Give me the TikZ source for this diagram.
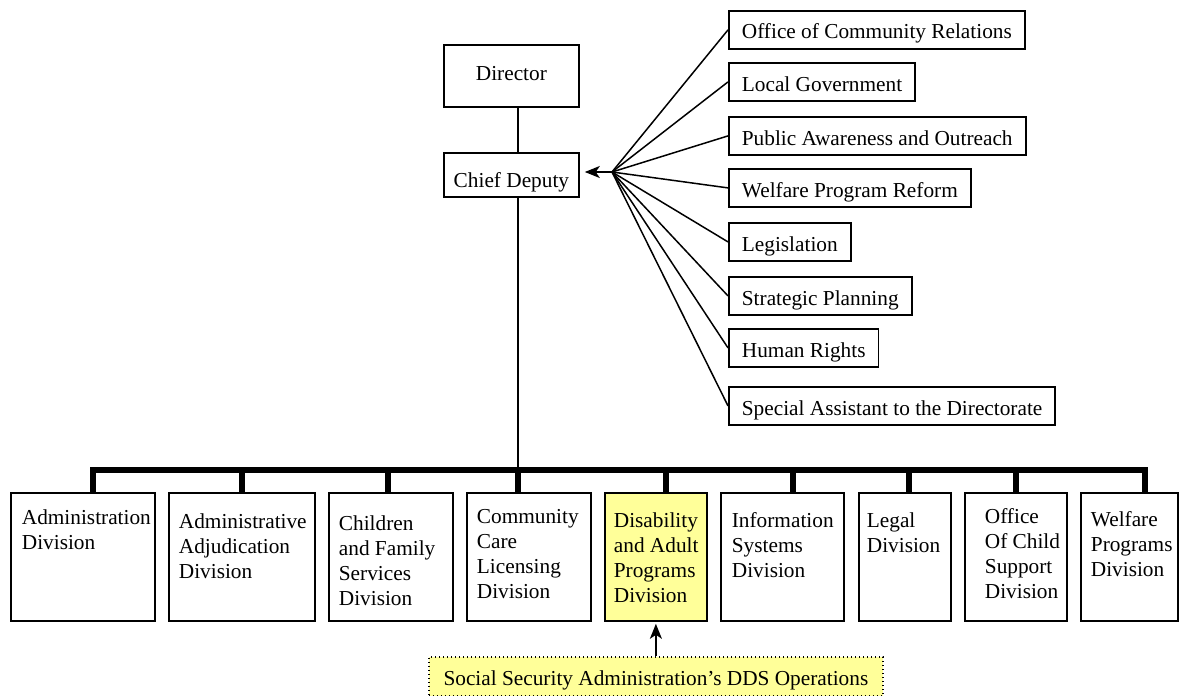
\documentclass[tikz,border=0pt]{standalone}
\usepackage{fontspec}
\setmainfont{Liberation Serif}
\usetikzlibrary{arrows.meta}
\definecolor{paleyellow}{HTML}{FFFF99}
\newcommand{\divtxt}[3]{\hspace*{#1pt}\parbox[t]{\dimexpr#2pt-#1pt\relax}{\raggedright #3}}

\begin{document}
\begin{tikzpicture}[x=1pt,y=-1pt,
    font=\fontsize{21.3}{25}\selectfont,
    >={Stealth[length=15pt,width=12pt,inset=4pt]},
    box/.style={draw,line width=1.8pt,inner sep=0pt,anchor=north west},
    unitbox/.style={box,inner xsep=13pt,text height=29pt,text depth=9pt},
    divbox/.style={box},
    link/.style={line width=1.5pt},
    bus/.style={line width=6.5pt}]
      \useasboundingbox (0,0) rectangle (1179,696);

      % top of the chart
      \node[box,minimum width=135pt,text height=36pt,text depth=26pt] (dir) at (443,44) {Director};
      \node[box,minimum width=135pt,text height=35pt,text depth=9pt] (cd) at (443,152) {Chief Deputy};

      % units reporting to the chief deputy
      \node[unitbox,text height=28pt,text depth=10pt] (ocr) at (728,10) {Office of Community Relations};
      \node[unitbox] (lg) at (728,62) {Local Government};
      \node[unitbox] (paw) at (728,116) {Public Awareness and Outreach};
      \node[unitbox] (wpr) at (728,168) {Welfare Program Reform};
      \node[unitbox] (legis) at (728,222) {Legislation};
      \node[unitbox] (sp) at (728,276) {Strategic Planning};
      \node[unitbox] (hr) at (728,328) {Human Rights};
      \node[unitbox] (sad) at (728,386) {Special Assistant to the Directorate};

      \coordinate (hub) at (612,172);
      \draw[link,->,shorten >=5pt] (hub) -- (hub -| cd.east);
      \foreach \u in {ocr,lg,paw,wpr,legis,sp,hr,sad}
        \draw[link] (hub) -- (\u.west);

      % divisions
      \node[divbox,text height=32pt,text depth=96pt] (adm) at (10,492) {\divtxt{11}{144}{Administration\\Division}};
      \node[divbox,text height=36pt,text depth=92pt] (aad) at (168,492) {\divtxt{10}{146}{Administrative\\Adjudication\\Division}};
      \node[divbox,text height=38pt,text depth=90pt] (cfs) at (328,492) {\divtxt{10}{124}{Children\\and Family\\Services\\Division}};
      \node[divbox,text height=31pt,text depth=97pt] (ccl) at (466,492) {\divtxt{10}{124}{Community\\Care\\Licensing\\Division}};
      \node[divbox,fill=paleyellow,text height=35pt,text depth=93pt] (dap) at (604,492) {\divtxt{9}{102}{Disability\\and Adult\\Programs\\Division}};
      \node[divbox,text height=35pt,text depth=93pt] (isd) at (720,492) {\divtxt{11}{123}{Information\\Systems\\Division}};
      \node[divbox,text height=35pt,text depth=93pt] (lgl) at (858,492) {\divtxt{8}{92}{Legal\\Division}};
      \node[divbox,text height=31pt,text depth=97pt] (ocs) at (964,492) {\divtxt{20}{102}{Office\\Of Child\\Support\\Division}};
      \node[divbox,text height=34pt,text depth=94pt] (wpd) at (1080,492) {\divtxt{10}{97}{Welfare\\Programs\\Division}};

      % bus bar
      \coordinate (b1) at (93,470);
      \coordinate (b2) at (242,470);
      \coordinate (b3) at (388,470);
      \coordinate (b4) at (518,470);
      \coordinate (b5) at (666,470);
      \coordinate (b6) at (793,470);
      \coordinate (b7) at (909,470);
      \coordinate (b8) at (1016,470);
      \coordinate (b9) at (1145,470);

      \draw[link] (dir.south -| b4) -- (cd.north -| b4);
      \draw[link] (cd.south -| b4) -- (b4);
      \draw[bus] (b1 |- adm.north) -- (b1) -- (b9) -- (b9 |- wpd.north);
      \draw[bus] (b2) -- (b2 |- aad.north);
      \draw[bus] (b3) -- (b3 |- cfs.north);
      \draw[bus] (b4) -- (b4 |- ccl.north);
      \draw[bus] (b5) -- (b5 |- dap.north);
      \draw[bus] (b6) -- (b6 |- isd.north);
      \draw[bus] (b7) -- (b7 |- lgl.north);
      \draw[bus] (b8) -- (b8 |- ocs.north);

      % outside operations
      \node[anchor=north west,inner sep=0pt,minimum width=454pt,text height=29pt,text depth=10pt,
            fill=paleyellow,draw,line width=1.8pt,dash pattern=on 1.4pt off 2.6pt] (ssa) at (428,656)
            {Social Security Administration’s DDS Operations};
      \draw[link,->,shorten >=2pt] (ssa.north) -- (dap.south);
    \end{tikzpicture}
\end{document}
